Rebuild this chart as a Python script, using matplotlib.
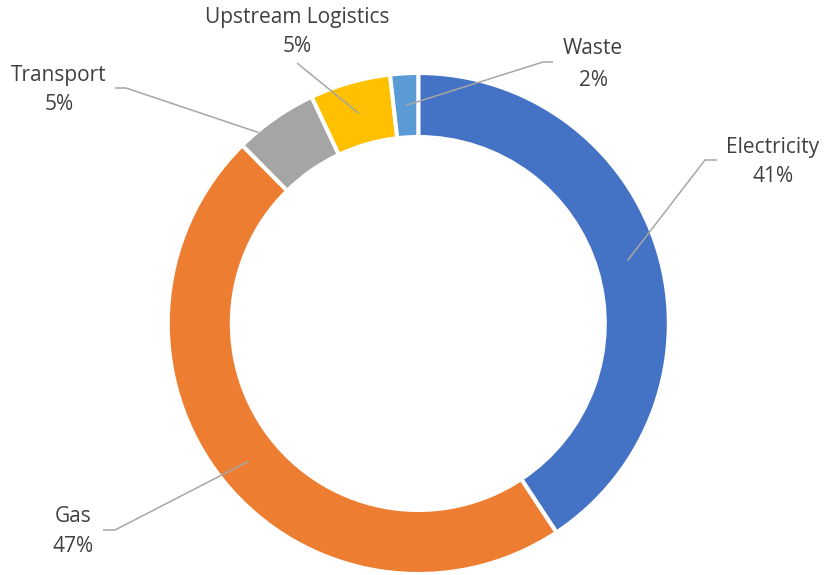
import numpy as np
import matplotlib.pyplot as plt

# data
categories = ["Electricity", "Gas", "Transport", "Upstream Logistics", "Waste"]
shares = [40.7, 46.9, 5.4, 5.2, 1.8]
colors = ["#4472C4", "#ED7D31", "#A5A5A5", "#FFC000", "#5B9BD5"]

W, H = 827, 575
cx, cy = 418.3, 323.5          # pixel coords, origin top-left
R_OUT, R_IN = 250.5, 186.5


def px(x, y):
    return x, H - y


fig = plt.figure(figsize=(W / 100, H / 100), dpi=100)
ax = fig.add_axes([0, 0, 1, 1])

ax.pie(shares, colors=colors, startangle=90, counterclock=False,
       radius=R_OUT, center=px(cx, cy),
       wedgeprops=dict(width=R_OUT - R_IN, edgecolor="white", linewidth=2.9))
ax.set_xlim(0, W)
ax.set_ylim(0, H)
ax.set_aspect("equal")
ax.axis("off")

# label layout: (line1 xy, line2 xy, leader points from label side), pixels
layout = {
    "Electricity": ((773, 147), (773, 176), [(717, 160), (705, 160)]),
    "Gas": ((73, 517), (73, 546), [(103, 530), (115, 530)]),
    "Transport": ((59, 75), (59, 105), [(115, 88), (126, 88)]),
    "Upstream Logistics": ((297, 18), (297, 47), [(297, 63)]),
    "Waste": ((593, 49), (593, 80), [(553, 62), (543, 62)]),
}
anchor_r = {"Transport": 249}
anchor_shift = {"Transport": -5}

total = sum(shares)
cum = np.cumsum([0] + shares) / total * 360
for i, name in enumerate(categories):
    mid = (cum[i] + cum[i + 1]) / 2 + anchor_shift.get(name, 0)
    r = anchor_r.get(name, (R_OUT + R_IN) / 2)
    ax_x = cx + r * np.sin(np.radians(mid))
    ax_y = cy - r * np.cos(np.radians(mid))
    t1, t2, pts = layout[name]
    path = pts + [(ax_x, ax_y)]
    xs = [p[0] for p in path]
    ys = [H - p[1] for p in path]
    ax.plot(xs, ys, color="#A6A6A6", lw=1.1, solid_capstyle="butt")
    pct = "{:.0f}%".format(shares[i] / total * 100)
    ax.text(*px(*t1), name, ha="center", va="center", fontsize=15,
            family="Open Sans", color="#404040")
    ax.text(*px(*t2), pct, ha="center", va="center", fontsize=15,
            family="Open Sans", color="#404040")

plt.savefig("out.png", dpi=100)
